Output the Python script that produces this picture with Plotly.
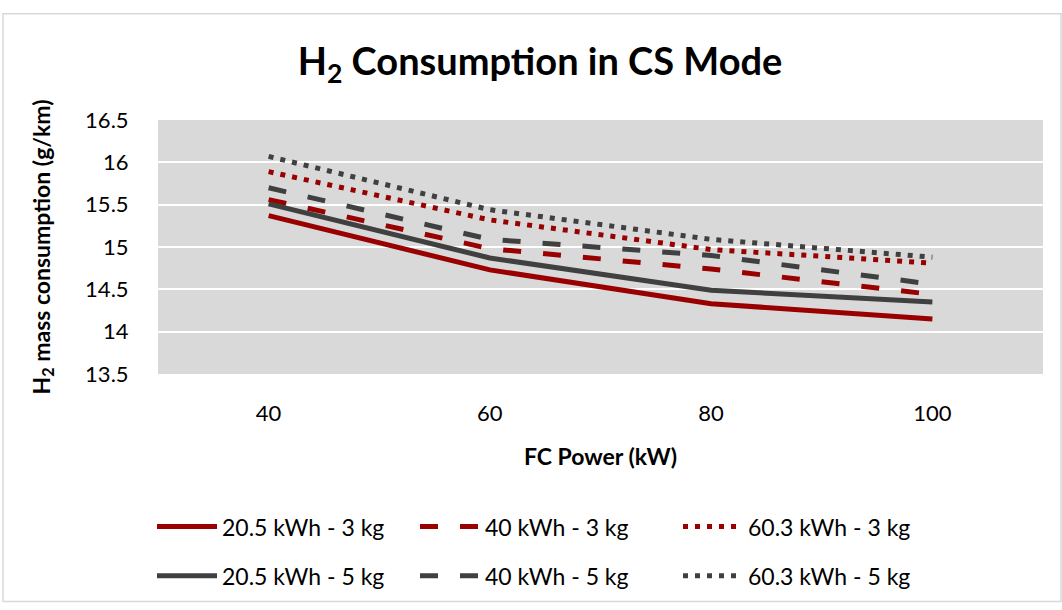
import plotly.graph_objects as go

fc_power = ["40", "60", "80", "100"]

s_20_3 = [15.37, 14.73, 14.33, 14.15]
s_40_3 = [15.56, 14.98, 14.74, 14.44]
s_60_3 = [15.89, 15.32, 14.97, 14.81]
s_20_5 = [15.51, 14.87, 14.49, 14.35]
s_40_5 = [15.70, 15.09, 14.90, 14.56]
s_60_5 = [16.07, 15.44, 15.09, 14.88]

names = ["20.5 kWh - 3 kg", "40 kWh - 3 kg", "60.3 kWh - 3 kg",
         "20.5 kWh - 5 kg", "40 kWh - 5 kg", "60.3 kWh - 5 kg"]

RED = "#990000"
GRAY = "#404040"
FONT = "Lato"

series = [
    (names[0], s_20_3, RED, "solid", "legend"),
    (names[1], s_40_3, RED, "18px,22px", "legend"),
    (names[2], s_60_3, RED, "5px,7px", "legend"),
    (names[3], s_20_5, GRAY, "solid", "legend2"),
    (names[4], s_40_5, GRAY, "18px,22px", "legend2"),
    (names[5], s_60_5, GRAY, "5px,7px", "legend2"),
]

fig = go.Figure()
for name, vals, col, dash, leg in series:
    fig.add_trace(go.Scatter(
        x=fc_power, y=vals, name=name, mode="lines",
        line=dict(color=col, width=5, dash=dash),
        legend=leg,
    ))

legend_common = dict(
    orientation="h", xanchor="left", yanchor="middle",
    font=dict(family=FONT, size=23, color="#000000"),
    entrywidth=188, entrywidthmode="pixels", itemwidth=60,
    bgcolor="rgba(0,0,0,0)",
)

fig.update_layout(
    width=1062, height=610,
    margin=dict(l=158, r=19, t=120, b=232),
    paper_bgcolor="white",
    plot_bgcolor="#D9D9D9",
    font=dict(family=FONT, size=22, color="#000000"),
    title=dict(
        text="<b>H<sub>2</sub> Consumption in CS Mode</b>",
        x=540 / 1062, xref="container", xanchor="center",
        y=1 - 62 / 610, yanchor="middle",
        font=dict(family=FONT, size=38, color="#000000"),
    ),
    xaxis=dict(
        type="category", range=[-0.5, 3.5],
        showgrid=False, zeroline=False, showline=False,
        ticks="outside", ticklen=20, tickcolor="rgba(0,0,0,0)",
        tickfont=dict(family=FONT, size=22),
        title=dict(text="<b>FC Power (kW)</b>", font=dict(family=FONT, size=23), standoff=23),
    ),
    yaxis=dict(
        range=[13.5, 16.5], dtick=0.5, tick0=13.5,
        showgrid=True, gridcolor="white", gridwidth=2,
        zeroline=False, showline=False,
        ticks="outside", ticklen=24, tickcolor="rgba(0,0,0,0)",
        tickfont=dict(family=FONT, size=22),
        title=dict(text="<b>H<sub>2</sub> mass consumption (g/km)</b>", font=dict(family=FONT, size=23), standoff=28),
    ),
    legend=dict(x=(152 - 158) / 885, y=-(533 - 378) / 258, **legend_common),
    legend2=dict(x=(152 - 158) / 885, y=-(583 - 378) / 258, **legend_common),
    showlegend=True,
)

# chart border
fig.add_shape(type="rect", xref="paper", yref="paper",
              x0=(3 - 158) / 885, x1=(1061 - 158) / 885,
              y0=(378 - 609) / 258, y1=(378 - 12) / 258,
              line=dict(color="#D9D9D9", width=1.5), fillcolor="rgba(0,0,0,0)",
              layer="below")

fig.write_html("out.html")
